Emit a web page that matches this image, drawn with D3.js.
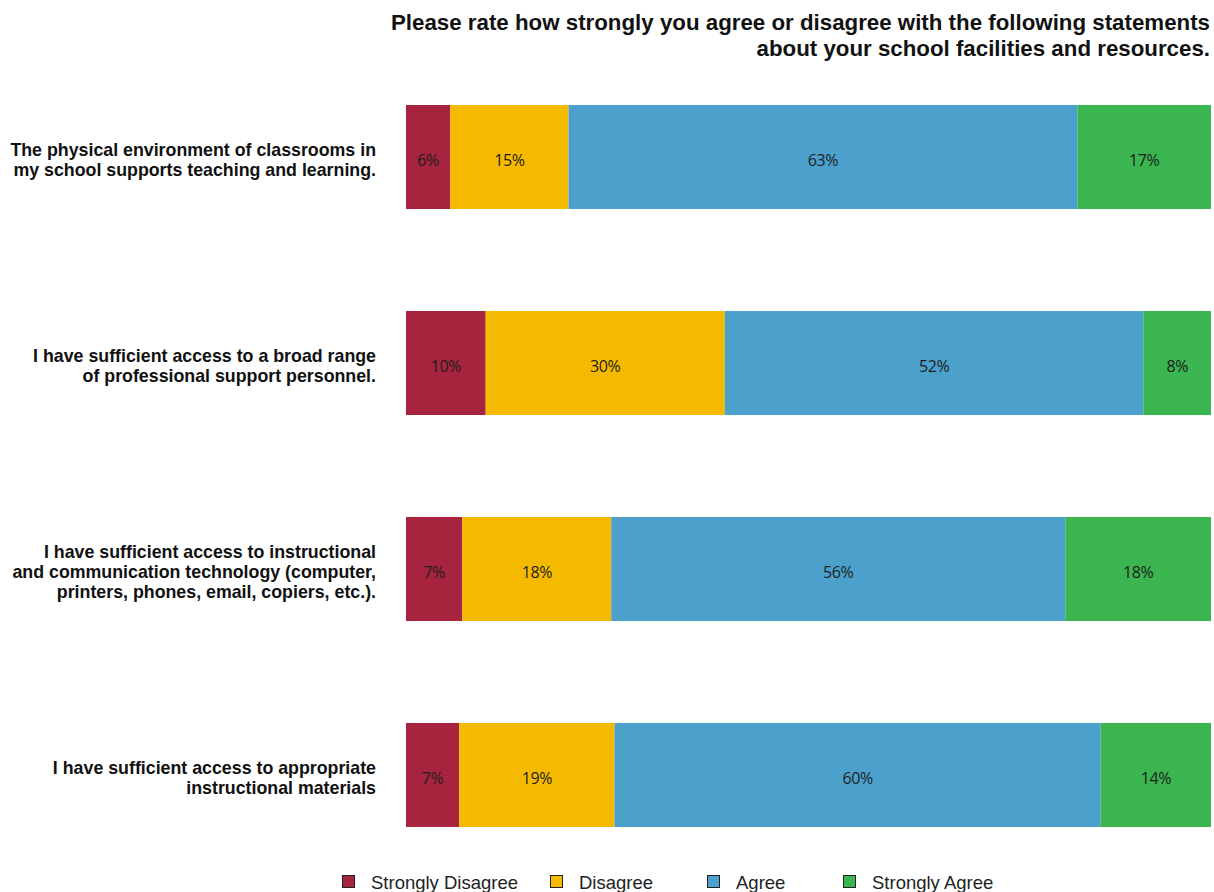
<!DOCTYPE html>
<html><head><meta charset="utf-8">
<script src="https://cdn.jsdelivr.net/npm/d3@7"></script>
<style>body{margin:0;background:#fff;}svg{display:block;}</style>
</head><body>
<svg id="chart" width="1214" height="892"></svg>
<script>
const titleLines = ["Please rate how strongly you agree or disagree with the following statements", "about your school facilities and resources."];
const categories = [
  ["The physical environment of classrooms in", "my school supports teaching and learning."],
  ["I have sufficient access to a broad range", "of professional support personnel."],
  ["I have sufficient access to instructional", "and communication technology (computer,", "printers, phones, email, copiers, etc.)."],
  ["I have sufficient access to appropriate", "instructional materials"]
];
const seriesNames = ["Strongly Disagree", "Disagree", "Agree", "Strongly Agree"];
const stronglyDisagree = [5.5, 9.9, 7.0, 6.6];
const disagree = [14.7, 29.7, 18.5, 19.3];
const agree = [63.2, 52.0, 56.4, 60.4];
const stronglyAgree = [16.6, 8.4, 18.1, 13.7];
const labelsSD = ["6%", "10%", "7%", "7%"];
const labelsD = ["15%", "30%", "18%", "19%"];
const labelsA = ["63%", "52%", "56%", "60%"];
const labelsSA = ["17%", "8%", "18%", "14%"];
const colors = ["#A6243E", "#F5BA00", "#4BA1CC", "#3AB54F"];

const svg = d3.select("#chart");
const mLeft = 406, mRight = 1211, mTop = 53.5, mBottom = 878.5;
const x = d3.scaleLinear().domain([0, 100]).range([mLeft, mRight]);
const y = d3.scaleBand().domain(d3.range(categories.length)).range([mTop, mBottom]).paddingInner(0.495).paddingOuter(0.25);

const vals = [stronglyDisagree, disagree, agree, stronglyAgree];
const labs = [labelsSD, labelsD, labelsA, labelsSA];
const rows = categories.map((c, i) => {
  let acc = 0;
  return vals.map((v, s) => { const o = {i, s, x0: acc, x1: acc + v[i], label: labs[s][i]}; acc += v[i]; return o; });
});
const segs = rows.flat();

svg.selectAll("rect.bar").data(segs).enter().append("rect")
  .attr("class", "bar")
  .attr("x", d => x(d.x0)).attr("width", d => x(d.x1) - x(d.x0))
  .attr("y", d => y(d.i)).attr("height", y.bandwidth())
  .attr("fill", d => colors[d.s]);

svg.selectAll("text.val").data(segs).enter().append("text")
  .attr("class", "val")
  .attr("x", d => (x(d.x0) + x(d.x1)) / 2)
  .attr("y", d => y(d.i) + y.bandwidth() / 2 + 3)
  .attr("dy", "0.35em").attr("text-anchor", "middle")
  .attr("font-family", "'Open Sans', 'DejaVu Sans', sans-serif").attr("font-size", 16)
  .attr("letter-spacing", -0.4)
  .attr("fill", "#1e1e1e").text(d => d.label);

// category labels
const catG = svg.append("g");
categories.forEach((lines, i) => {
  const cy = y(i) + y.bandwidth() / 2 + 3;
  const lh = 20;
  const t = catG.append("text").attr("text-anchor", "end")
    .attr("font-family", "'Liberation Sans', Arial, sans-serif").attr("font-weight", "bold")
    .attr("font-size", 17.8).attr("fill", "#111");
  lines.forEach((l, k) => {
    t.append("tspan").attr("x", 376).attr("y", cy + (k - (lines.length - 1) / 2) * lh).attr("dy", "0.35em").text(l);
  });
});

// title
const tt = svg.append("text").attr("text-anchor", "end")
  .attr("font-family", "'Liberation Sans', Arial, sans-serif").attr("font-weight", "bold")
  .attr("font-size", 22.3).attr("fill", "#111");
titleLines.forEach((l, k) => tt.append("tspan").attr("x", 1210).attr("y", 30 + k * 26).text(l));

// legend
const legX = [342, 550, 707, 843];
const lg = svg.append("g");
seriesNames.forEach((n, s) => {
  lg.append("rect").attr("x", legX[s] + 0.5).attr("y", 875.5).attr("width", 12).attr("height", 12)
    .attr("fill", colors[s]).attr("stroke", "#222").attr("stroke-width", 1);
  lg.append("text").attr("x", legX[s] + 29).attr("y", 889)
    .attr("font-family", "'Liberation Sans', Arial, sans-serif").attr("font-size", 18.5)
    .attr("fill", "#222").text(n);
});
</script>
</body></html>
